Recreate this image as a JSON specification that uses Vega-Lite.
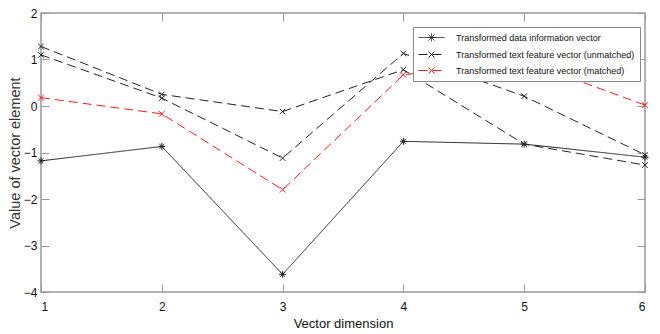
{
  "$schema": "https://vega.github.io/schema/vega-lite/v6.json",
  "width": 604,
  "height": 279,
  "autosize": "none",
  "padding": {"left": 41, "top": 13, "right": 15, "bottom": 42},
  "background": "white",
  "config": {
    "view": {"stroke": "#999999", "strokeWidth": 1.5},
    "axis": {
      "grid": false,
      "domain": false,
      "tickColor": "#999999",
      "tickWidth": 1,
      "tickSize": -8,
      "labelFont": "Liberation Sans, Arial, sans-serif",
      "labelFontSize": 12,
      "labelColor": "#111111",
      "titleFont": "Liberation Sans, Arial, sans-serif",
      "titleFontWeight": "normal",
      "titleColor": "#111111"
    }
  },
  "data": {
    "values": [
      {"dim": 1, "value": -1.18, "series": "Transformed data information vector", "line": "info"},
      {"dim": 2, "value": -0.87, "series": "Transformed data information vector", "line": "info"},
      {"dim": 3, "value": -3.62, "series": "Transformed data information vector", "line": "info"},
      {"dim": 4, "value": -0.76, "series": "Transformed data information vector", "line": "info"},
      {"dim": 5, "value": -0.82, "series": "Transformed data information vector", "line": "info"},
      {"dim": 6, "value": -1.1, "series": "Transformed data information vector", "line": "info"},
      {"dim": 1, "value": 1.28, "series": "Transformed text feature vector (unmatched)", "line": "unA"},
      {"dim": 2, "value": 0.25, "series": "Transformed text feature vector (unmatched)", "line": "unA"},
      {"dim": 3, "value": -0.12, "series": "Transformed text feature vector (unmatched)", "line": "unA"},
      {"dim": 4, "value": 0.78, "series": "Transformed text feature vector (unmatched)", "line": "unA"},
      {"dim": 5, "value": -0.82, "series": "Transformed text feature vector (unmatched)", "line": "unA"},
      {"dim": 6, "value": -1.27, "series": "Transformed text feature vector (unmatched)", "line": "unA"},
      {"dim": 1, "value": 1.1, "series": "Transformed text feature vector (unmatched)", "line": "unB"},
      {"dim": 2, "value": 0.17, "series": "Transformed text feature vector (unmatched)", "line": "unB"},
      {"dim": 3, "value": -1.12, "series": "Transformed text feature vector (unmatched)", "line": "unB"},
      {"dim": 4, "value": 1.13, "series": "Transformed text feature vector (unmatched)", "line": "unB"},
      {"dim": 5, "value": 0.21, "series": "Transformed text feature vector (unmatched)", "line": "unB"},
      {"dim": 6, "value": -1.05, "series": "Transformed text feature vector (unmatched)", "line": "unB"},
      {"dim": 1, "value": 0.18, "series": "Transformed text feature vector (matched)", "line": "matched"},
      {"dim": 2, "value": -0.17, "series": "Transformed text feature vector (matched)", "line": "matched"},
      {"dim": 3, "value": -1.8, "series": "Transformed text feature vector (matched)", "line": "matched"},
      {"dim": 4, "value": 0.67, "series": "Transformed text feature vector (matched)", "line": "matched"},
      {"dim": 5, "value": 0.97, "series": "Transformed text feature vector (matched)", "line": "matched"},
      {"dim": 6, "value": 0.02, "series": "Transformed text feature vector (matched)", "line": "matched"}
    ]
  },
  "resolve": {"axis": {"x": "independent", "y": "independent"}},
  "layer": [
    {
      "mark": {"type": "line", "strokeWidth": 1},
      "encoding": {
        "x": {"field": "dim", "type": "quantitative", "scale": {"domain": [1, 6], "nice": false, "zero": false},
          "axis": {"orient": "bottom", "values": [1, 2, 3, 4, 5, 6], "format": "d", "labelPadding": 17, "title": "Vector dimension", "titleFontSize": 13, "titlePadding": 5}},
        "y": {"field": "value", "type": "quantitative", "scale": {"domain": [-4, 2], "nice": false, "zero": false},
          "axis": {"orient": "left", "values": [-4, -3, -2, -1, 0, 1, 2], "format": "d", "labelPadding": 12, "title": "Value of vector element", "titleFontSize": 14.5, "titleColor": "#333333", "titlePadding": 1}},
        "detail": {"field": "line"},
        "color": {"field": "series", "type": "nominal",
          "scale": {"domain": ["Transformed data information vector", "Transformed text feature vector (unmatched)", "Transformed text feature vector (matched)"], "range": ["#222222", "#222222", "#ff1a1a"]},
          "legend": {
            "title": null,
            "orient": "none",
            "legendX": 372,
            "legendY": 14,
            "padding": 5,
            "strokeColor": "#888888",
            "fillColor": "white",
            "rowPadding": 5,
            "symbolSize": 100,
            "symbolStrokeWidth": 1,
            "symbolOffset": 8,
            "labelOffset": 19,
            "labelFont": "Liberation Sans, Arial, sans-serif",
            "labelFontSize": 9,
            "labelColor": "#111111",
            "labelLimit": 300,
            "encode": {"symbols": {"update": {"shape": {"signal": "datum.value == 'Transformed data information vector' ? 'M-2.6,0L2.6,0M-0.8,0L0.8,0M0,-0.8L0,0.8M-0.6,-0.6L0.6,0.6M-0.6,0.6L0.6,-0.6' : 'M-2.6,0L2.6,0M-0.6,-0.6L0.6,0.6M-0.6,0.6L0.6,-0.6'"}, "fill": {"value": "transparent"}}}}
          }},
        "strokeDash": {"field": "series", "type": "nominal",
          "scale": {"domain": ["Transformed data information vector", "Transformed text feature vector (unmatched)", "Transformed text feature vector (matched)"], "range": [[1, 0], [9, 5], [9, 5]]}}
      }
    },
    {
      "mark": {"type": "point", "filled": false, "strokeWidth": 1, "opacity": 1, "size": 49},
      "encoding": {
        "x": {"field": "dim", "type": "quantitative", "axis": {"orient": "top", "values": [1, 2, 3, 4, 5, 6], "labels": false, "title": null}},
        "y": {"field": "value", "type": "quantitative", "axis": {"orient": "right", "values": [-4, -3, -2, -1, 0, 1, 2], "labels": false, "title": null}},
        "color": {"field": "series", "type": "nominal"},
        "shape": {"field": "line", "type": "nominal", "legend": null,
          "scale": {"domain": ["info", "unA", "unB", "matched"],
            "range": ["M-1,0L1,0M0,-1L0,1M-0.7,-0.7L0.7,0.7M-0.7,0.7L0.7,-0.7", "M-0.8,-0.8L0.8,0.8M-0.8,0.8L0.8,-0.8", "M-0.8,-0.8L0.8,0.8M-0.8,0.8L0.8,-0.8", "M-0.8,-0.8L0.8,0.8M-0.8,0.8L0.8,-0.8"]}}
      }
    }
  ]
}
